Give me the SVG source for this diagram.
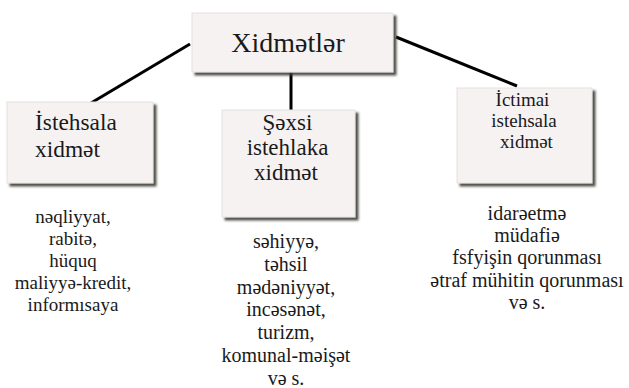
<svg xmlns="http://www.w3.org/2000/svg" width="629" height="388" viewBox="0 0 629 388">
<defs>
<filter id="sh" x="-10%" y="-10%" width="125%" height="130%">
<feGaussianBlur in="SourceAlpha" stdDeviation="1"/>
<feOffset dx="3" dy="3" result="b"/>
<feFlood flood-color="#3d3f33" flood-opacity="0.9"/>
<feComposite in2="b" operator="in"/>
<feMerge><feMergeNode/><feMergeNode in="SourceGraphic"/></feMerge>
</filter>
</defs>
<style>
.box{fill:#f7f2f2;stroke:#e6e0e0;stroke-width:1;filter:url(#sh)}
.ln{stroke:#000;stroke-width:3;fill:none}
</style>
<rect width="629" height="388" fill="#fff"/>
<g id="connectors">
<line class="ln" x1="190" y1="44" x2="91" y2="103"/>
<line class="ln" x1="291" y1="72" x2="291" y2="110"/>
<line class="ln" x1="396" y1="37" x2="517" y2="86"/>
</g>
<g id="root">
<rect class="box" x="192" y="13" width="201" height="59"/>
<text font-family="Liberation Serif" fill="#1a1a1a" text-anchor="middle" x="288" y="52" font-size="28">Xidmətlər</text>
</g>
<g id="node-istehsala">
<rect class="box" x="7" y="102" width="146" height="81"/>
<text font-family="Liberation Serif" fill="#1a1a1a" x="35" y="130" font-size="23.4">İstehsala</text>
<text font-family="Liberation Serif" fill="#1a1a1a" x="35" y="157" font-size="23.4">xidmət</text>
</g>
<g id="node-sexsi">
<rect class="box" x="222" y="110" width="133" height="107"/>
<text font-family="Liberation Serif" fill="#1a1a1a" text-anchor="middle" x="287.5" y="130" font-size="23">Şəxsi</text>
<text font-family="Liberation Serif" fill="#1a1a1a" text-anchor="middle" x="287.5" y="155" font-size="23">istehlaka</text>
<text font-family="Liberation Serif" fill="#1a1a1a" text-anchor="middle" x="286" y="180" font-size="23">xidmət</text>
</g>
<g id="node-ictimai">
<rect class="box" x="457" y="88" width="135" height="95"/>
<text font-family="Liberation Serif" fill="#1a1a1a" text-anchor="middle" x="522.5" y="106" font-size="19">İctimai</text>
<text font-family="Liberation Serif" fill="#1a1a1a" text-anchor="middle" x="524" y="127" font-size="19">istehsala</text>
<text font-family="Liberation Serif" fill="#1a1a1a" text-anchor="middle" x="526.5" y="148" font-size="19">xidmət</text>
</g>
<g id="list-istehsala">
<text font-family="Liberation Serif" fill="#1a1a1a" text-anchor="middle" x="73" y="223" font-size="19">nəqliyyat,</text>
<text font-family="Liberation Serif" fill="#1a1a1a" text-anchor="middle" x="73" y="245" font-size="19">rabitə,</text>
<text font-family="Liberation Serif" fill="#1a1a1a" text-anchor="middle" x="73" y="267" font-size="19">hüquq</text>
<text font-family="Liberation Serif" fill="#1a1a1a" text-anchor="middle" x="73" y="289" font-size="19">maliyyə-kredit,</text>
<text font-family="Liberation Serif" fill="#1a1a1a" text-anchor="middle" x="73" y="311" font-size="19">informısaya</text>
</g>
<g id="list-sexsi">
<text font-family="Liberation Serif" fill="#1a1a1a" text-anchor="middle" x="286" y="248" font-size="20">səhiyyə,</text>
<text font-family="Liberation Serif" fill="#1a1a1a" text-anchor="middle" x="286" y="271" font-size="20">təhsil</text>
<text font-family="Liberation Serif" fill="#1a1a1a" text-anchor="middle" x="286" y="294" font-size="20">mədəniyyət,</text>
<text font-family="Liberation Serif" fill="#1a1a1a" text-anchor="middle" x="286" y="316" font-size="20">incəsənət,</text>
<text font-family="Liberation Serif" fill="#1a1a1a" text-anchor="middle" x="286" y="339" font-size="20">turizm,</text>
<text font-family="Liberation Serif" fill="#1a1a1a" text-anchor="middle" x="286" y="362" font-size="20">komunal-məişət</text>
<text font-family="Liberation Serif" fill="#1a1a1a" text-anchor="middle" x="286" y="385" font-size="20">və s.</text>
</g>
<g id="list-ictimai">
<text font-family="Liberation Serif" fill="#1a1a1a" text-anchor="middle" x="527" y="220" font-size="20">idarəetmə</text>
<text font-family="Liberation Serif" fill="#1a1a1a" text-anchor="middle" x="527" y="242" font-size="20">müdafiə</text>
<text font-family="Liberation Serif" fill="#1a1a1a" text-anchor="middle" x="527" y="264" font-size="20">fsfyişin qorunması</text>
<text font-family="Liberation Serif" fill="#1a1a1a" text-anchor="middle" x="527" y="287" font-size="20">ətraf mühitin qorunması</text>
<text font-family="Liberation Serif" fill="#1a1a1a" text-anchor="middle" x="527" y="309" font-size="20">və s.</text>
</g>
</svg>
